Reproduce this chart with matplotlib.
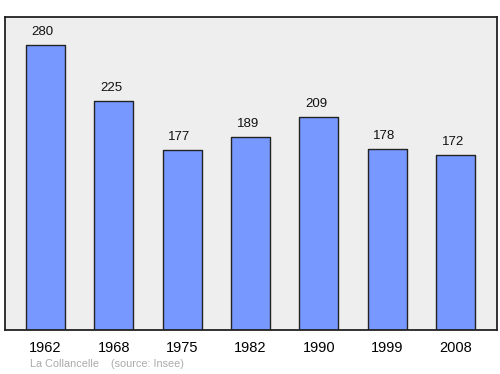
import matplotlib
matplotlib.use("Agg")
import matplotlib.pyplot as plt

years = ["1962", "1968", "1975", "1982", "1990", "1999", "2008"]
population = [280, 225, 177, 189, 209, 178, 172]

plt.rcParams["font.family"] = ["Liberation Sans", "DejaVu Sans"]

fig = plt.figure(figsize=(5.0, 3.74), dpi=100)
ax = fig.add_axes([0.01, 0.1176, 0.984, 0.837])
ax.set_facecolor("#eeeeee")

pos = list(range(len(years)))
ax.bar(pos, population, width=0.571, color="#7799ff", edgecolor="#222222",
       linewidth=1.0, joinstyle="round", zorder=2)

# value labels sit a touch left of the bar centre in the original
for x, v in zip(pos, population):
    ax.annotate(str(v), (x, v), xytext=(-2, 5), textcoords="offset points",
                ha="center", va="bottom", fontsize=9.5, color="#111111")

ax.set_xlim(-0.593, 6.608)
ax.set_ylim(0, 307)
ax.set_xticks(pos)
ax.set_xticklabels(years, fontsize=10.5)
ax.tick_params(axis="x", length=0, pad=8)
ax.set_yticks([])
for s in ax.spines.values():
    s.set_linewidth(1.3)
    s.set_color("#222222")

fig.text(0.06, 0.013, "La Collancelle    (source: Insee)", fontsize=7.8,
         color="#aaaaaa", ha="left", va="bottom")

fig.savefig("out.png", dpi=100)
